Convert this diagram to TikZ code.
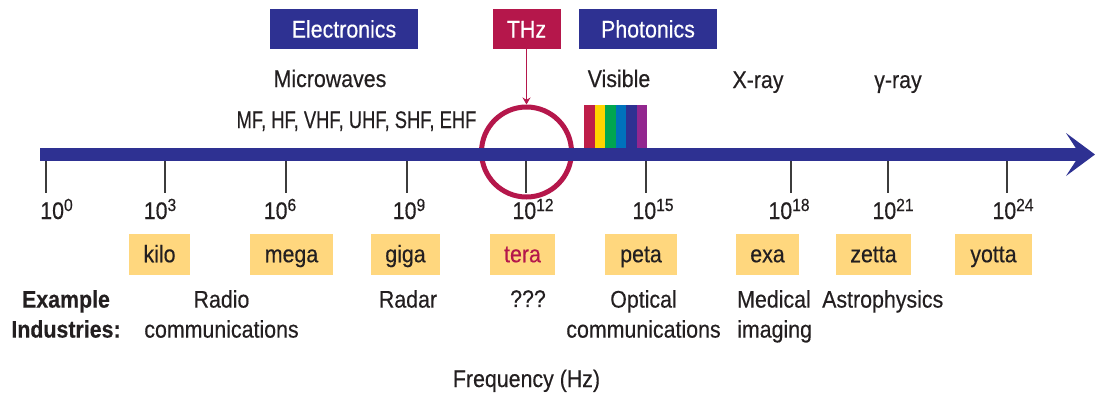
\documentclass[tikz,border=0pt]{standalone}
\usepackage{fontspec}
\setmainfont{Liberation Sans}[FakeStretch=0.89, FakeBold=0.35]
\usetikzlibrary{arrows.meta}

\definecolor{specblue}{HTML}{2E3192}
\definecolor{thzred}{HTML}{B5174B}
\definecolor{prefixfill}{HTML}{FFD77E}
\definecolor{ink}{HTML}{231F20}
\definecolor{tickgray}{HTML}{3C3C3C}
\definecolor{vred}{HTML}{BE1E4A}
\definecolor{vyellow}{HTML}{FFD400}
\definecolor{vgreen}{HTML}{00A651}
\definecolor{vblue}{HTML}{0072BC}
\definecolor{vindigo}{HTML}{2E3192}
\definecolor{vviolet}{HTML}{92278F}

% power of ten with a large, tight exponent
\newcommand\pwr[1]{10\raisebox{8pt}{\fontsize{17.5}{17.5}\selectfont #1}}

\begin{document}
\begin{tikzpicture}[x=1pt, y=-1pt,
  txt/.style={text=ink, inner sep=0pt, font=\fontsize{24}{30}\selectfont},
  band/.style={txt, fill=specblue, text=white, minimum height=40pt,
    text height=17pt, text depth=0pt},
  thzband/.style={band, fill=thzred},
  prefixbox/.style={txt, fill=prefixfill, minimum height=41pt,
    text height=17.5pt, text depth=2pt},
  powlabel/.style={txt, anchor=base},
  industry/.style={txt, anchor=north, align=center},
  tickline/.style={tickgray, line width=1.4pt},
]
\fill[white] (0,0) rectangle (1095,394);
\useasboundingbox (0,0) rectangle (1095,394);

% regime banners
\node[band, minimum width=148pt] (electronics) at (344,29) {Electronics};
\node[thzband, minimum width=68pt] (thz) at (526.5,29) {THz};
\node[band, minimum width=138pt] (photonics) at (648,29) {Photonics};

% spectral region names
\node[txt, anchor=base] (microwaves) at (330,87) {Microwaves};
\node[txt, anchor=base] (visible) at (619,87) {Visible};
\node[txt, anchor=base] (xray) at (758,88) {X-ray};
\node[txt, anchor=base] (gammaray) at (898,88) {γ-ray};
\node[txt, anchor=base] (bands) at (356.5,128)
  {\scalebox{0.86}[1]{MF, HF, VHF, UHF, SHF, EHF}};

% visible rainbow
\foreach \c [count=\i from 0] in {vred,vyellow,vgreen,vblue,vindigo,vviolet}
  \fill[\c] (584+\i*10.5,105) rectangle ++(10.5,43);

% terahertz gap marker
\node[draw=thzred, line width=5pt, circle, minimum size=90pt, inner sep=0pt]
  (thzwindow) at (526.5,152) {};
\draw[thzred, line width=1.5pt, -{Stealth[length=7pt, width=8pt]}]
  (thz.south) -- (thzwindow.north);

% frequency axis
\coordinate (axisstart) at (40,154.5);
\coordinate (axisend) at (1095,154.5);
\draw[specblue, line width=13pt,
  -{Stealth[length=29pt, width=43pt, inset=14pt, line width=0pt]}]
  (axisstart) -- (axisend);

\foreach \x in {46,165,286,407,526,646,791,888,1007}
  \draw[tickline] (\x,161) -- (\x,193);

% decade labels
\node[powlabel] (p0)  at (56.5,219) {\pwr{0}};
\node[powlabel] (p3)  at (160,219)  {\pwr{3}};
\node[powlabel] (p6)  at (280,219)  {\pwr{6}};
\node[powlabel] (p9)  at (409,219)  {\pwr{9}};
\node[powlabel] (p12) at (533,219)  {\pwr{12}};
\node[powlabel] (p15) at (653,219)  {\pwr{15}};
\node[powlabel] (p18) at (789,219)  {\pwr{18}};
\node[powlabel] (p21) at (893,219)  {\pwr{21}};
\node[powlabel] (p24) at (1013,219) {\pwr{24}};

% SI prefixes
\node[prefixbox, minimum width=61pt] (kilo)  at (159.5,254.5) {kilo};
\node[prefixbox, minimum width=83pt] (mega)  at (291.5,254.5) {mega};
\node[prefixbox, minimum width=69pt] (giga)  at (405.5,254.5) {giga};
\node[prefixbox, minimum width=65pt, text=thzred] (tera) at (522.5,254.5) {tera};
\node[prefixbox, minimum width=72pt] (peta)  at (641,254.5)   {peta};
\node[prefixbox, minimum width=63pt] (exa)   at (767.5,254.5) {exa};
\node[prefixbox, minimum width=75pt] (zetta) at (873.5,254.5) {zetta};
\node[prefixbox, minimum width=77pt] (yotta) at (993.5,254.5) {yotta};

% example industries
\node[industry] (examples) at (66,290) {\bfseries Example\\\bfseries Industries:};
\node[industry] (radio) at (221.5,290) {Radio\\communications};
\node[industry] (radar) at (408,290) {Radar};
\node[industry] (unknown) at (528,290) {???};
\node[industry] (optical) at (643.5,290) {Optical\\communications};
\node[industry, anchor=north west, align=left] (medical) at (737,290) {Medical\\imaging};
\node[industry, anchor=north west] (astro) at (822,290) {Astrophysics};

\node[txt, anchor=base] (freq) at (526.5,387) {Frequency (Hz)};
\end{tikzpicture}
\end{document}
